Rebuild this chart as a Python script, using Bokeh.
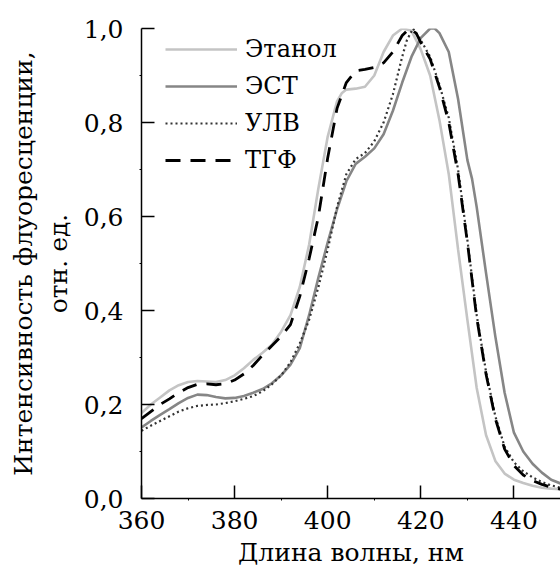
from bokeh.plotting import figure
from bokeh.models import Range1d, FixedTicker, Legend, LegendItem
from bokeh.embed import file_html
from bokeh.resources import INLINE

# ---- data ----
ethanol_x = [360, 362, 364, 366, 368, 370, 372, 374, 376, 378, 380, 382, 384, 386, 388, 390, 392, 394, 396, 398,
             400, 402, 403, 404, 406, 408, 410, 412, 414, 416, 417, 418, 420, 422, 424, 426, 428, 430, 432, 434,
             436, 438, 440, 442, 444, 446, 448, 450]
ethanol_y = [0.182, 0.200, 0.215, 0.230, 0.241, 0.248, 0.250, 0.249, 0.248, 0.252, 0.262, 0.277, 0.295, 0.310, 0.327,
             0.355, 0.390, 0.450, 0.540, 0.660, 0.770, 0.845, 0.862, 0.870, 0.872, 0.876, 0.900, 0.950, 0.985, 1.000,
             0.998, 0.995, 0.955, 0.900, 0.805, 0.690, 0.530, 0.380, 0.235, 0.135, 0.080, 0.053, 0.040, 0.033,
             0.027, 0.023, 0.021, 0.020]

est_x = [360, 362, 364, 366, 368, 370, 372, 374, 376, 378, 380, 382, 384, 386, 388, 390, 392, 394, 396, 398,
         400, 402, 404, 406, 408, 410, 412, 414, 416, 418, 420, 422, 423, 424, 426, 428, 430, 431, 432, 434,
         436, 438, 440, 442, 444, 446, 448, 450]
est_y = [0.151, 0.165, 0.178, 0.190, 0.203, 0.214, 0.221, 0.220, 0.216, 0.213, 0.214, 0.218, 0.225, 0.233, 0.245,
         0.262, 0.285, 0.320, 0.390, 0.470, 0.545, 0.615, 0.675, 0.712, 0.727, 0.745, 0.775, 0.825, 0.885, 0.940,
         0.980, 1.000, 1.000, 0.990, 0.950, 0.850, 0.720, 0.680, 0.620, 0.480, 0.345, 0.225, 0.140, 0.100,
         0.074, 0.055, 0.040, 0.032]

ulv_x = [360, 362, 364, 366, 368, 370, 372, 374, 376, 378, 380, 382, 384, 386, 388, 390, 392, 394, 396, 398,
         400, 402, 404, 406, 408, 410, 412, 414, 416, 417, 418.3, 420, 422, 424, 426, 428, 430, 432, 434, 436,
         438, 440, 442, 444, 446, 448, 450]
ulv_y = [0.144, 0.155, 0.165, 0.175, 0.185, 0.192, 0.197, 0.199, 0.200, 0.203, 0.207, 0.212, 0.218, 0.228, 0.243,
         0.262, 0.290, 0.330, 0.380, 0.450, 0.530, 0.620, 0.690, 0.722, 0.735, 0.760, 0.800, 0.860, 0.940, 0.975,
         1.000, 0.975, 0.940, 0.880, 0.810, 0.700, 0.550, 0.390, 0.270, 0.175, 0.110, 0.077, 0.058, 0.045,
         0.035, 0.028, 0.023]

thf_x = [360, 362, 364, 366, 368, 370, 372, 374, 376, 378, 380, 382, 384, 386, 388, 390, 392, 394, 396, 398,
         400, 402, 404, 406, 408, 410, 412, 414, 416, 417.5, 419, 420, 422, 424, 426, 428, 430, 432, 434, 436,
         438, 440, 442, 444, 446, 448, 450]
thf_y = [0.170, 0.185, 0.200, 0.212, 0.225, 0.236, 0.243, 0.244, 0.242, 0.244, 0.252, 0.265, 0.283, 0.305, 0.325,
         0.345, 0.370, 0.430, 0.510, 0.600, 0.725, 0.830, 0.885, 0.910, 0.913, 0.917, 0.927, 0.950, 0.985, 1.000,
         0.990, 0.970, 0.935, 0.875, 0.800, 0.690, 0.545, 0.385, 0.265, 0.170, 0.105, 0.070, 0.050, 0.038,
         0.030, 0.024, 0.020]

series_names = ["Этанол", "ЭСТ", "УЛВ", "ТГФ"]

x_ticks = [360, 380, 400, 420, 440]
x_minor = [370, 390, 410, 430, 450]
y_ticks = [0.0, 0.2, 0.4, 0.6, 0.8, 1.0]
y_tick_labels = ["0,0", "0,2", "0,4", "0,6", "0,8", "1,0"]
y_minor = [0.1, 0.3, 0.5, 0.7, 0.9]

x_label = "Длина волны, нм"
y_label = "Интенсивность флуоресценции,\nотн. ед."

FONT = "DejaVu Serif"

p = figure(width=560, height=574, output_backend="svg", toolbar_location=None,
           x_range=Range1d(360, 450), y_range=Range1d(0, 1.0),
           min_border_left=141, min_border_right=0, min_border_top=28, min_border_bottom=76)
p.outline_line_color = None
p.grid.visible = False
p.background_fill_color = "white"

r1 = p.line(ethanol_x, ethanol_y, line_color="#c4c4c4", line_width=2.6)
r2 = p.line(est_x, est_y, line_color="#868686", line_width=2.6)
r3 = p.line(ulv_x, ulv_y, line_color="#333333", line_width=2.2, line_dash="2 3")
r4 = p.line(thf_x, thf_y, line_color="black", line_width=2.8, line_dash="15 10")

for ax in (p.xaxis[0], p.yaxis[0]):
    ax.axis_line_color = "black"
    ax.axis_line_width = 1.5
    ax.major_tick_in = 13
    ax.major_tick_out = 0
    ax.major_tick_line_width = 1.5
    ax.minor_tick_in = 0
    ax.minor_tick_out = 2
    ax.major_label_text_font = FONT
    ax.major_label_text_font_size = "25px"
    ax.major_label_text_color = "black"
    ax.axis_label_text_font = FONT
    ax.axis_label_text_font_size = "25px"
    ax.axis_label_text_font_style = "normal"
    ax.axis_label_text_color = "black"

p.xaxis[0].ticker = FixedTicker(ticks=x_ticks, minor_ticks=x_minor)
p.yaxis[0].ticker = FixedTicker(ticks=y_ticks, minor_ticks=y_minor)
p.yaxis[0].major_label_overrides = {t: l for t, l in zip(y_ticks, y_tick_labels)}
p.xaxis[0].axis_label = x_label
p.yaxis[0].axis_label = y_label
p.xaxis[0].major_label_standoff = 10
p.yaxis[0].major_label_standoff = 16
p.xaxis[0].axis_label_standoff = 6
p.yaxis[0].axis_label_standoff = 8

legend = Legend(items=[LegendItem(label=n, renderers=[r]) for n, r in zip(series_names, [r1, r2, r3, r4])],
                location=(24, 323))
legend.background_fill_alpha = 0
legend.border_line_alpha = 0
legend.padding = 0
legend.margin = 0
legend.spacing = 7
legend.glyph_width = 72
legend.glyph_height = 30
legend.label_height = 30
legend.label_standoff = 8
legend.label_text_font = FONT
legend.label_text_font_size = "24px"
legend.label_text_color = "black"
p.add_layout(legend)

open("out.html", "w").write(file_html(p, INLINE))
